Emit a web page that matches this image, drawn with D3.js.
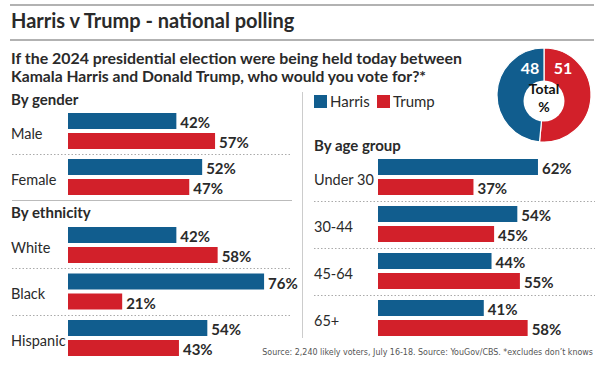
<!DOCTYPE html>
<html><head><meta charset="utf-8">
<script src="https://cdn.jsdelivr.net/npm/d3@7"></script>
<style>
body{margin:0;background:#fff;}
svg{display:block;font-family:Lato,"Open Sans",sans-serif;}
</style></head>
<body><svg id="c" width="600" height="367"></svg>
<script>
// ---- data ----
const series = ["Harris", "Trump"];
const genderCats = ["Male", "Female"];
const genderHarris = [42, 52];
const genderTrump = [57, 47];
const ethnicityCats = ["White", "Black", "Hispanic"];
const ethnicityHarris = [42, 76, 54];
const ethnicityTrump = [58, 21, 43];
const ageCats = ["Under 30", "30-44", "45-64", "65+"];
const ageHarris = [62, 54, 44, 41];
const ageTrump = [37, 45, 55, 58];
const totalLabels = ["Trump", "Harris"];
const totalValues = [51, 48];

const colors = {Harris: "#115d8e", Trump: "#d2202a"};
const svg = d3.select("#c");
const textCol = "#2a2a2a";

// rules + title
svg.append("line").attr("x1",10).attr("x2",594).attr("y1",5).attr("y2",5).attr("stroke","#999").attr("stroke-width",1.5);
svg.append("text").attr("x",11).attr("y",28).attr("font-size",20).attr("font-weight",700).attr("fill",textCol)
  .text("Harris v Trump - national polling");
svg.append("line").attr("x1",10).attr("x2",594).attr("y1",40).attr("y2",40).attr("stroke","#999").attr("stroke-width",1.5);
svg.append("text").attr("x",11).attr("y",64).attr("font-size",15.5).attr("font-weight",700).attr("fill",textCol)
  .attr("textLength",451).attr("lengthAdjust","spacingAndGlyphs")
  .text("If the 2024 presidential election were being held today between");
svg.append("text").attr("x",11).attr("y",82).attr("font-size",15.5).attr("font-weight",700).attr("fill",textCol)
  .attr("textLength",415).attr("lengthAdjust","spacingAndGlyphs")
  .text("Kamala Harris and Donald Trump, who would you vote for?*");

// scales
const x = d3.scaleLinear().domain([0, 100]).range([0, 258]);
const inner = d3.scaleBand().domain(series).range([2, 38]).paddingInner(0.2);

function section(cats, hv, tv, x0, yRange, labelX, sepX1, sepX2) {
  const y = d3.scaleBand().domain(cats).range(yRange);
  const rows = cats.map((c, i) => ({cat: c, vals: [{s: "Harris", v: hv[i]}, {s: "Trump", v: tv[i]}]}));
  const g = svg.append("g");
  const grp = g.selectAll("g.grp").data(rows).join("g").attr("transform", d => `translate(0,${y(d.cat)})`);
  grp.selectAll("rect").data(d => d.vals).join("rect")
    .attr("x", x0).attr("y", d => inner(d.s)).attr("width", d => x(d.v)).attr("height", inner.bandwidth())
    .attr("fill", d => colors[d.s]);
  grp.selectAll("text.val").data(d => d.vals).join("text").attr("class","val")
    .attr("x", d => x0 + x(d.v) + 4).attr("y", d => inner(d.s) + inner.bandwidth()/2 + 1)
    .attr("dominant-baseline","central").attr("font-size",15).attr("font-weight",700).attr("fill",textCol)
    .text(d => d.v + "%");
  grp.append("text").attr("x", labelX).attr("y", y.bandwidth()/2 - 1).attr("dominant-baseline","central")
    .attr("font-size",14.5).attr("fill",textCol).text(d => d.cat);
  // dotted separators
  cats.slice(1).forEach(c => {
    const yy = Math.round(y(c) + inner("Harris") - (y.step() - 40)/2 - 2) + 0.5;
    g.append("line").attr("x1", sepX1).attr("x2", sepX2).attr("y1", yy).attr("y2", yy)
      .attr("stroke","#aaa").attr("stroke-dasharray","1.5,2");
  });
}

// left
svg.append("text").attr("x",11).attr("y",105).attr("font-size",15).attr("font-weight",700).attr("fill",textCol).text("By gender");
section(genderCats, genderHarris, genderTrump, 68, [111, 203], 11, 12, 292);
svg.append("line").attr("x1",12).attr("x2",292).attr("y1",200.5).attr("y2",200.5).attr("stroke","#bbb");
svg.append("text").attr("x",11).attr("y",218).attr("font-size",15).attr("font-weight",700).attr("fill",textCol).text("By ethnicity");
section(ethnicityCats, ethnicityHarris, ethnicityTrump, 68, [225, 364.5], 11, 12, 292);

// divider
svg.append("line").attr("x1",302.5).attr("x2",302.5).attr("y1",92).attr("y2",338).attr("stroke","#ccc");

// legend
const leg = svg.append("g").attr("transform","translate(314,95)");
const legX = d3.scaleOrdinal().domain(series).range([0, 63]);
series.forEach(s => {
  leg.append("rect").attr("x", legX(s)).attr("y",0).attr("width",13).attr("height",13).attr("fill",colors[s]);
  leg.append("text").attr("x", legX(s)+16).attr("y",12).attr("font-size",15).attr("fill",textCol).text(s);
});

// right
svg.append("text").attr("x",314).attr("y",151).attr("font-size",15).attr("font-weight",700).attr("fill",textCol).text("By age group");
section(ageCats, ageHarris, ageTrump, 378, [157, 345], 314, 314, 595);

// donut
const pie = d3.pie().sort(null).value(d => d.v);
const pdata = pie(totalLabels.map((s, i) => ({s, v: totalValues[i]})));
const arc = d3.arc().innerRadius(0).outerRadius(47);
const dg = svg.append("g").attr("transform","translate(544,95)");
dg.selectAll("path").data(pdata).join("path").attr("d", arc).attr("fill", d => colors[d.data.s])
  .attr("stroke","#fff").attr("stroke-width",1.2);
dg.append("circle").attr("cx",0).attr("cy",6).attr("r",20.5).attr("fill","#fff");
dg.selectAll("text.tv").data(pdata).join("text").attr("class","tv")
  .attr("x", d => d.data.s === "Harris" ? -14 : 19).attr("y", -28)
  .attr("text-anchor","middle").attr("dominant-baseline","central")
  .attr("font-size",16).attr("font-weight",700).attr("fill","#fff").text(d => d.data.v);
dg.append("text").attr("x",0).attr("y",-1).attr("text-anchor","middle")
  .attr("font-size",14).attr("font-weight",700).attr("fill","#111").text("Total");
dg.append("text").attr("x",0).attr("y",17).attr("text-anchor","middle")
  .attr("font-size",14).attr("font-weight",700).attr("fill","#111").text("%");

// source
const src = svg.append("text").attr("x",593).attr("y",355).attr("text-anchor","end").attr("font-size",11.5)
  .attr("font-family","'Liberation Sans Narrow','DejaVu Sans Condensed',sans-serif").attr("fill","#555")
  .text("Source: 2,240 likely voters, July 16-18. Source: YouGov/CBS. *excludes don\u2019t knows");
const w = src.node().getComputedTextLength();
if (w > 0) src.attr("font-size", Math.min(12.5, 11.5 * 331 / w));
</script></body></html>
